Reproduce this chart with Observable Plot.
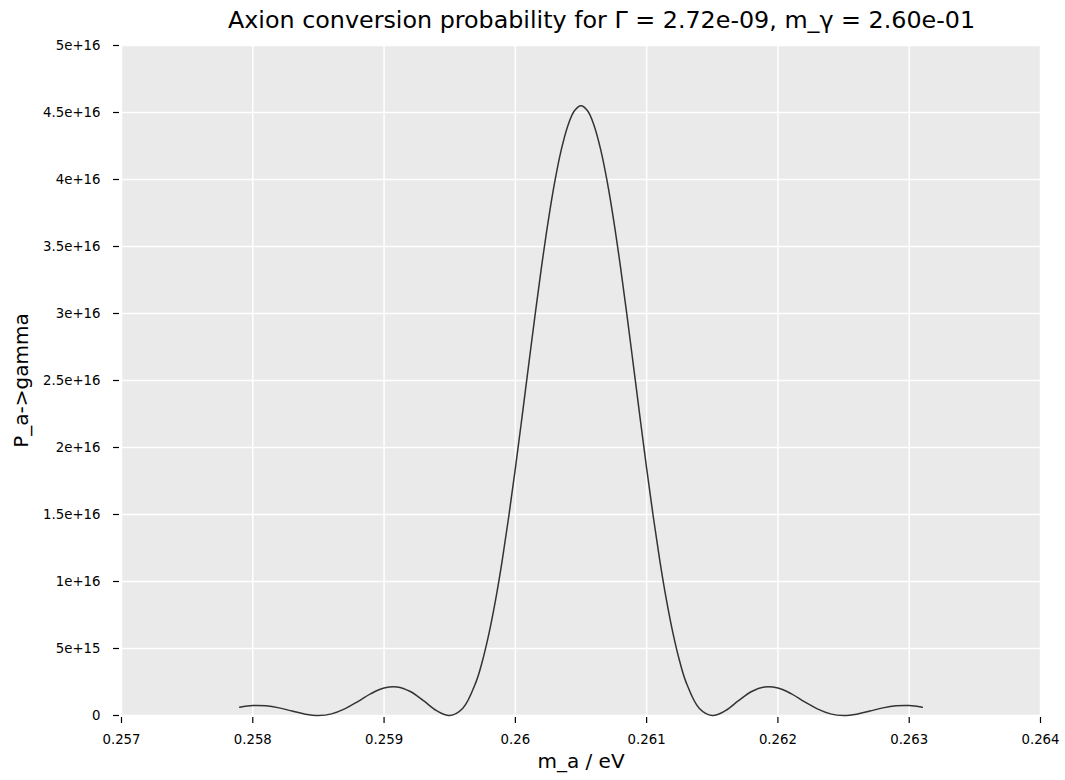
<!DOCTYPE html>
<html>
<head>
<meta charset="utf-8">
<script src="https://cdn.jsdelivr.net/npm/d3@7"></script>
<script src="https://cdn.jsdelivr.net/npm/@observablehq/plot@0.6"></script>
<style>
  html, body { margin: 0; padding: 0; background: #fff; }
  body { width: 1065px; height: 780px; overflow: hidden; font-family: "DejaVu Sans", sans-serif; }
  #title { height: 30px; position: relative; z-index: 2; }
  #title span { position: absolute; left: 228px; top: 6px; font-size: 23.8px; line-height: 28px; white-space: nowrap; color: #000; }
  svg { display: block; }
  svg text { font-family: "DejaVu Sans", sans-serif !important; }
</style>
</head>
<body>
<div id="title"><span>Axion conversion probability for Γ = 2.72e-09, m_γ = 2.60e-01</span></div>
<div id="chart"></div>
<script>
// Axion mass (eV)
const massEV = [
  0.2579, 0.2580, 0.2581, 0.2582, 0.2583, 0.2584, 0.2585, 0.2586, 0.2587, 0.2588, 0.2589,
  0.2590, 0.2591, 0.2592, 0.2593, 0.2594, 0.2595, 0.2596, 0.2597,
  0.25975, 0.2598, 0.25985, 0.2599, 0.25995, 0.2600, 0.26005, 0.2601, 0.26015, 0.2602,
  0.26025, 0.2603, 0.26035, 0.2604, 0.26045, 0.2605, 0.26055, 0.2606, 0.26065, 0.2607,
  0.26075, 0.2608, 0.26085, 0.2609, 0.26095, 0.2610, 0.26105, 0.2611, 0.26115, 0.2612,
  0.26125, 0.2613,
  0.2614, 0.2615, 0.2616, 0.2617, 0.2618, 0.2619,
  0.2620, 0.2621, 0.2622, 0.2623, 0.2624, 0.2625, 0.2626, 0.2627, 0.2628, 0.2629,
  0.2630, 0.2631
];
// P_a->gamma, in units of 1e16
const probE16 = [
  0.062, 0.074, 0.072, 0.057, 0.033, 0.010, 0.000, 0.012, 0.049, 0.104, 0.163,
  0.205, 0.213, 0.179, 0.111, 0.036, 0.000, 0.054, 0.249,
  0.410, 0.616, 0.866, 1.158, 1.487, 1.844, 2.221, 2.606, 2.988, 3.353,
  3.688, 3.982, 4.223, 4.402, 4.513, 4.550, 4.513, 4.402, 4.223, 3.982,
  3.688, 3.353, 2.988, 2.606, 2.221, 1.844, 1.487, 1.158, 0.866, 0.616,
  0.410, 0.249,
  0.054, 0.000, 0.036, 0.111, 0.179, 0.213,
  0.205, 0.163, 0.104, 0.049, 0.012, 0.000, 0.010, 0.033, 0.057, 0.072,
  0.074, 0.062
];
const xTicks = [0.257, 0.258, 0.259, 0.260, 0.261, 0.262, 0.263, 0.264];
const xTickLabels = ["0.257", "0.258", "0.259", "0.26", "0.261", "0.262", "0.263", "0.264"];
const yTicks = [0, 5e15, 1e16, 1.5e16, 2e16, 2.5e16, 3e16, 3.5e16, 4e16, 4.5e16, 5e16];
const yTickLabels = ["0", "5e+15", "1e+16", "1.5e+16", "2e+16", "2.5e+16", "3e+16", "3.5e+16", "4e+16", "4.5e+16", "5e+16"];

const data = massEV.map((m, i) => ({m, p: probE16[i] * 1e16}));
const xLab = new Map(xTicks.map((t, i) => [t, xTickLabels[i]]));
const yLab = new Map(yTicks.map((t, i) => [t, yTickLabels[i]]));
const FONT = "DejaVu Sans";

const chart = Plot.plot({
  width: 1065,
  height: 750,
  marginLeft: 121,
  marginRight: 25,
  marginTop: 15,
  marginBottom: 65,
  style: {fontFamily: FONT, fontSize: "13px", color: "#000", background: "#fff", overflow: "visible"},
  x: {domain: [0.257, 0.264], label: null},
  y: {domain: [0, 5e16], label: null},
  marks: [
    Plot.frame({fill: "#EAEAEA", stroke: null}),
    Plot.gridX(xTicks, {stroke: "#fff", strokeOpacity: 1, strokeWidth: 1.5}),
    Plot.gridY(yTicks, {stroke: "#fff", strokeOpacity: 1, strokeWidth: 1.5}),
    Plot.axisX(xTicks, {tickSize: 6, tickPadding: 11, dy: 2, strokeWidth: 1.2, tickFormat: d => xLab.get(d), fontSize: 13.3, fontFamily: FONT, label: null}),
    Plot.axisY(yTicks, {tickSize: 6, tickPadding: 13, dx: -2, strokeWidth: 1.2, tickFormat: d => yLab.get(d), fontSize: 13.3, fontFamily: FONT, label: null}),
    Plot.line(data, {x: "m", y: "p", curve: "catmull-rom", stroke: "#333333", strokeWidth: 1.5}),
    Plot.text(["m_a / eV"], {frameAnchor: "bottom", dy: 52, fontSize: 20, fontFamily: FONT, fill: "#000"}),
    Plot.text(["P_a->gamma"], {frameAnchor: "left", textAnchor: "middle", dx: -100, rotate: -90, fontSize: 20, fontFamily: FONT, fill: "#000"})
  ]
});
document.getElementById("chart").appendChild(chart);
</script>
</body>
</html>
